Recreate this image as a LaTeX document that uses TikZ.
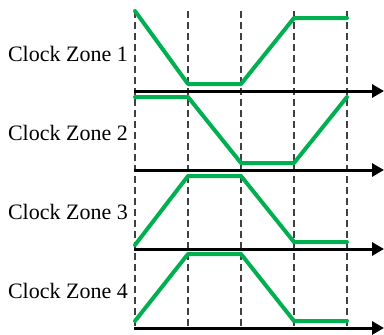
\documentclass[tikz,border=0pt]{standalone}
\usepackage{fontspec}
\setmainfont{Liberation Serif}
\usetikzlibrary{arrows.meta}
\definecolor{zonegreen}{HTML}{00B050}

\begin{document}
\begin{tikzpicture}[x=1pt,y=-1pt,
  wave/.style={line width=4pt,zonegreen,line cap=round,line join=round},
  timeaxis/.style={line width=3pt,-{Triangle[length=12pt,width=13pt]}},
  phase/.style={black!75,line width=1.2pt,dash pattern=on 7pt off 4pt}]
\useasboundingbox (0,0) rectangle (384,335);

% phase boundaries
\foreach \x in {135,188,241,294,347}
  \draw[phase] (\x,11)--(\x,328);

% one time axis and one label per zone
\foreach \n/\y in {1/91,2/170,3/249,4/328}{
  \draw[timeaxis] (134,\y)--(384,\y);
  \node[anchor=east,inner sep=0pt,font=\fontsize{22}{26}\selectfont] (zone\n) at (128,\y-37.5) {Clock Zone \n};
}

 \draw[wave] (135,11)--(188,84)--(241,84)--(294,18)--(347,18);
 \draw[wave] (135,97)--(188,97)--(241,163)--(294,163)--(347,97);
 \draw[wave] (135,245)--(188,176)--(241,176)--(294,242)--(347,242);
 \draw[wave] (135,321)--(188,254)--(241,254)--(294,321)--(347,321);

\end{tikzpicture}
\end{document}
